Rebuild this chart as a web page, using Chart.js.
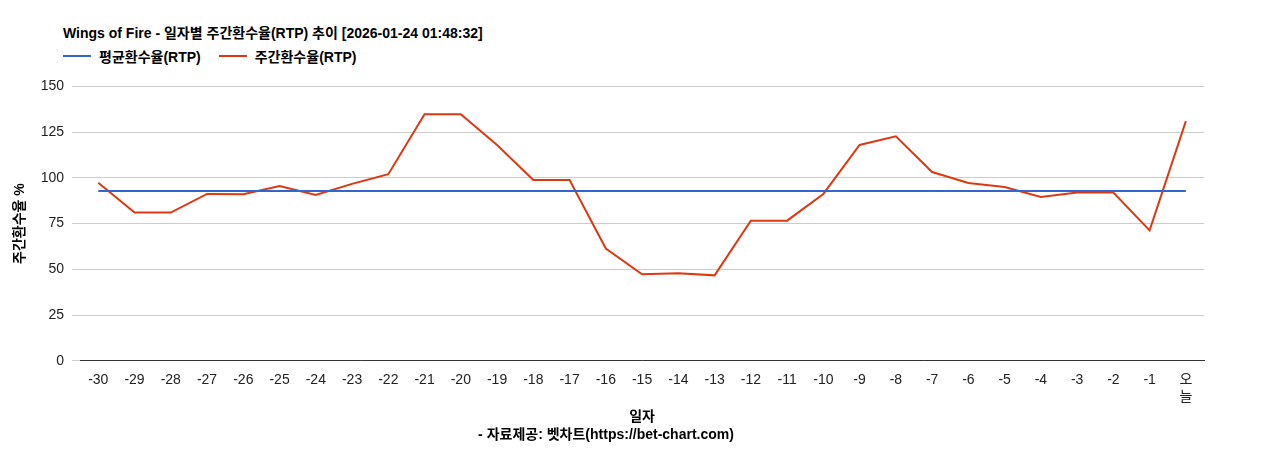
<!DOCTYPE html>
<html><head><meta charset="utf-8">
<script src="https://cdn.jsdelivr.net/npm/chart.js@4"></script>
<style>html,body{margin:0;padding:0;background:#fff;font-family:'Liberation Sans','Noto Sans CJK KR',sans-serif}
#w{position:relative;width:1268px;height:450px}
#t{position:absolute;left:63px;top:22px;font-size:14px;font-weight:bold;color:#000}
#lg{position:absolute;left:63px;top:46px;font-size:14px;font-weight:bold;color:#000;display:flex;gap:18px}
#lg span{display:flex;align-items:center}
#lg i{display:inline-block;width:28px;height:2px;margin-right:8px}
#cw{position:absolute;left:0;top:70px;width:1268px;height:380px}</style>
</head><body><div id="w">
<div id="t"></div><div id="lg"></div>
<div id="cw"><canvas id="c"></canvas></div></div>
<script>
const titleText = 'Wings of Fire - 일자별 주간환수율(RTP) 추이 [2026-01-24 01:48:32]';
const categories = ['-30','-29','-28','-27','-26','-25','-24','-23','-22','-21','-20','-19','-18','-17','-16','-15','-14','-13','-12','-11','-10','-9','-8','-7','-6','-5','-4','-3','-2','-1',['오','늘']];
const weeklyRTP = [97.3,81,81,91.2,91,95.6,90.6,96.7,102,134.8,134.8,118,98.8,98.8,61.4,47.3,47.8,46.7,76.6,76.6,91.2,118,122.7,103.2,97.2,95,89.6,92,92,71.3,131];
const avgRTP = 92.8;
const yTicks = [0,25,50,75,100,125,150];
const seriesNames = ['평균환수율(RTP)','주간환수율(RTP)'];
const seriesColors = ['#3366cc','#dc3912'];
document.getElementById('t').textContent = titleText;
document.getElementById('lg').innerHTML = seriesNames.map((n,i)=>`<span><i style="background:${seriesColors[i]}"></i>${n}</span>`).join('');
Chart.defaults.font.family = "'Liberation Sans','Noto Sans CJK KR',sans-serif";
new Chart(document.getElementById('c'), {
  type: 'line',
  data: { labels: categories, datasets: [
    { label: seriesNames[0], data: categories.map(() => avgRTP), borderColor: seriesColors[0], borderWidth: 2, pointRadius: 0 },
    { label: seriesNames[1], data: weeklyRTP, borderColor: seriesColors[1], borderWidth: 2, pointRadius: 0 }
  ]},
  options: {
    responsive: true, maintainAspectRatio: false, animation: false,
    layout: { padding: { left: 8, right: 64, top: 10, bottom: 0 } },
    plugins: {
      legend: { display: false }, tooltip: { enabled: false },
      subtitle: { display: true, position: 'bottom', text: '- 자료제공: 벳차트(https://bet-chart.com)', color: '#000', font: { size: 14, weight: 'bold' }, padding: { top: 0, bottom: 6 } }
    },
    scales: {
      x: { offset: true, grid: { display: false }, border: { color: '#333' }, ticks: { color: '#222', font: { size: 14 }, maxRotation: 0, autoSkip: false },
           title: { display: true, text: '일자', color: '#000', font: { size: 14, weight: 'bold' }, padding: { top: 0, bottom: 2 } } },
      y: { min: 0, max: 150, afterBuildTicks: a => { a.ticks = yTicks.map(v => ({ value: v })); },
           grid: { color: '#ccc' }, border: { display: false }, ticks: { color: '#222', font: { size: 14 }, padding: 8 },
           title: { display: true, text: '주간환수율 %', color: '#000', font: { size: 14, weight: 'bold' } } }
    }
  }
});
</script></body></html>
